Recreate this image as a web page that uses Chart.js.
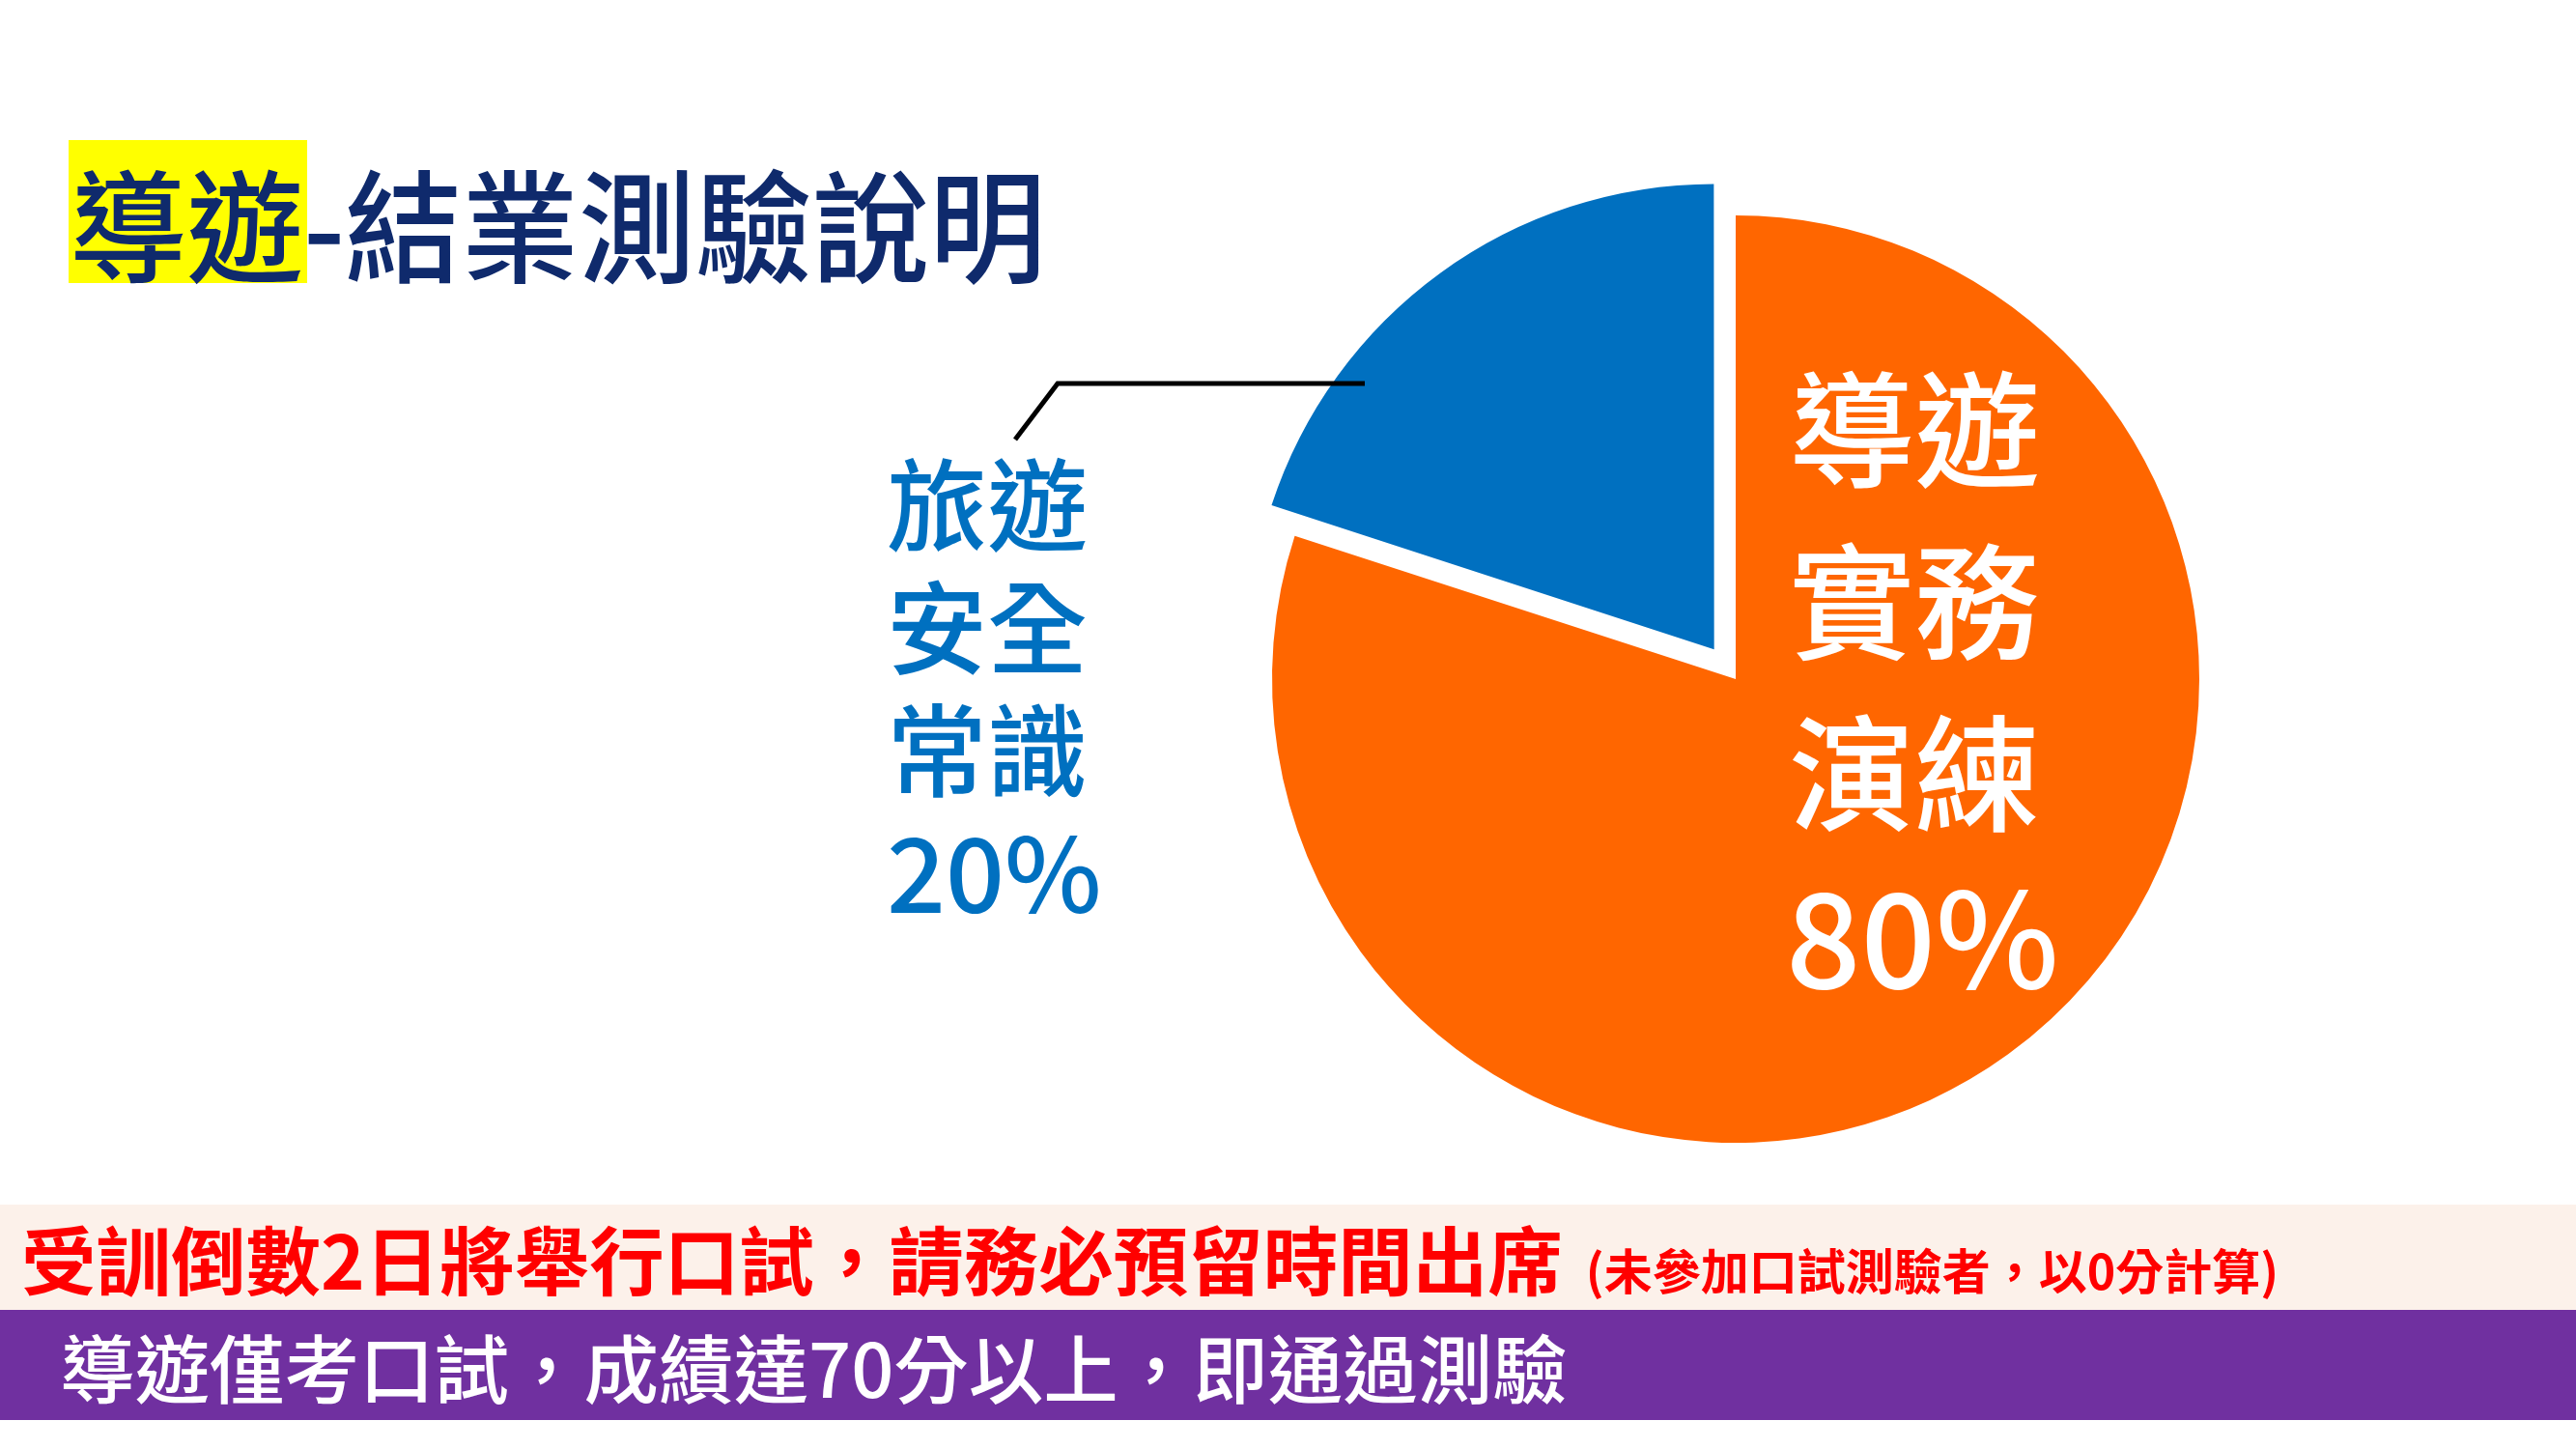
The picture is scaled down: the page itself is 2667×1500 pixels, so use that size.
<!DOCTYPE html>
<html><head><meta charset="utf-8">
<script src="https://cdn.jsdelivr.net/npm/chart.js@4.4.0/dist/chart.umd.min.js"></script>
<style>
html,body{margin:0;padding:0;background:#fff;width:2667px;height:1500px;overflow:hidden;font-family:"Noto Sans CJK TC","Noto Sans",sans-serif;}
.abs{position:absolute;white-space:nowrap;}
#c{position:absolute;left:0;top:0;width:2667px;height:1500px;}
</style></head><body>
<div class="abs" style="left:71px;top:145px;width:247px;height:148px;background:#FFFF00"></div>
<div class="abs" id="title" style="left:72px;top:154px;height:148px;line-height:148px;font-size:126px;font-weight:500;color:#0F2A6C;transform:scaleX(0.96);transform-origin:left center;"><span>導遊</span>-結業測驗說明</div>
<div class="abs" style="left:0;top:1247px;width:2667px;height:109px;background:#FCF1EA"></div>
<div class="abs" style="left:0;top:1356px;width:2667px;height:114px;background:#7030A0"></div>
<div class="abs" style="left:22px;top:1247px;height:109px;line-height:109px;color:#FF0000;font-weight:700;"><span style="font-size:77.5px;">受訓倒數2日將舉行口試，請務必預留時間出席</span><span style="font-size:50px;margin-left:24px;">(未參加口試測驗者，以0分計算)</span></div>
<div class="abs" style="left:62px;top:1356px;height:114px;line-height:114px;color:#FFFFFF;font-weight:500;font-size:77.5px;">導遊僅考口試，成績達70分以上，即通過測驗</div>
<canvas id="c" width="2667" height="1500"></canvas>
<script>
const categories = ["導遊實務演練", "旅遊安全常識"];
const values = [80, 20];
const percentLabels = ["80%", "20%"];
const orangeLines = ["導遊", "實務", "演練"];
const blueLines = ["旅遊", "安全", "常識"];
const colors = ["#FF6600", "#0070C0"];

const labelPlugin = {
  id: 'sliceLabels',
  afterDatasetsDraw(chart) {
    const ctx = chart.ctx;
    const meta = chart.getDatasetMeta(0);
    const arc = meta.data[0];
    const cx = arc.x, cy = arc.y;
    ctx.save();
    ctx.textAlign = 'left';
    ctx.textBaseline = 'middle';
    // orange (inside) label
    ctx.fillStyle = '#FFFFFF';
    ctx.font = '500 130px "Noto Sans CJK TC"';
    const oy = [-258, -80, 98];
    orangeLines.forEach((t, i) => ctx.fillText(t, cx + 55, cy + oy[i]));
    ctx.font = '500 136px "Noto Sans CJK TC"';
    ctx.fillText(percentLabels[0], cx + 52, cy + 268);
    // blue (outside) label
    ctx.fillStyle = colors[1];
    ctx.font = '500 104px "Noto Sans CJK TC"';
    const by = [-180, -53, 74];
    blueLines.forEach((t, i) => ctx.fillText(t, cx - 879, cy + by[i]));
    ctx.font = '500 107px "Noto Sans CJK TC"';
    ctx.fillText(percentLabels[1], cx - 879, cy + 201);
    // leader line
    ctx.strokeStyle = '#000000';
    ctx.lineWidth = 5;
    ctx.beginPath();
    ctx.moveTo(cx - 384, cy - 306);
    ctx.lineTo(cx - 702, cy - 306);
    ctx.lineTo(cx - 746, cy - 248);
    ctx.stroke();
    ctx.restore();
  }
};

new Chart(document.getElementById('c'), {
  type: 'pie',
  data: {
    labels: categories,
    datasets: [{
      data: values,
      backgroundColor: colors,
      borderWidth: 0,
      offset: [0, 152],
      hoverOffset: 0
    }]
  },
  options: {
    responsive: false,
    animation: false,
    events: [],
    radius: 480,
    layout: { padding: { left: 1000, right: 73, top: 0, bottom: 94 } },
    plugins: { legend: { display: false }, tooltip: { enabled: false } }
  },
  plugins: [labelPlugin]
});
</script>
</body></html>
